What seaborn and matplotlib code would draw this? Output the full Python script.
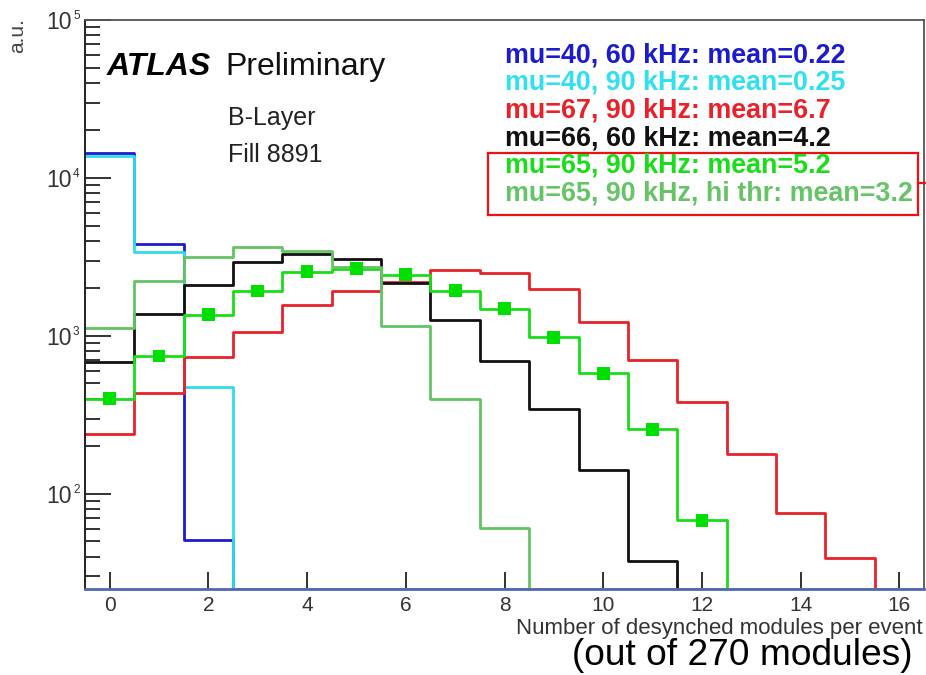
import numpy as np
import pandas as pd
import matplotlib
matplotlib.use("Agg")
import matplotlib.pyplot as plt
import seaborn as sns
from matplotlib.patches import Rectangle
from matplotlib.lines import Line2D
from matplotlib.ticker import LogLocator, NullFormatter

# Bin centres: number of desynchronised B-Layer modules in one event
modules = np.arange(0, 17)

# Entries per bin (a.u.) for each run configuration; 0 = empty bin
mu40_60khz = [14400, 3800, 51, 0, 0, 0, 0, 0, 0, 0, 0, 0, 0, 0, 0, 0, 0]
mu40_90khz = [13800, 3400, 473, 0, 0, 0, 0, 0, 0, 0, 0, 0, 0, 0, 0, 0, 0]
mu67_90khz = [240, 434, 733, 1065, 1560, 1935, 2200, 2630, 2500, 1977, 1233,
              705, 384, 178, 76, 39.5, 0]
mu66_60khz = [681, 1370, 2100, 2940, 3300, 3085, 2155, 1255, 695, 345, 142,
              37.7, 0, 0, 0, 0, 0]
mu65_90khz = [401, 747, 1360, 1927, 2555, 2670, 2444, 1935, 1483, 982, 581,
              257, 68, 0, 0, 0, 0]
mu65_90khz_hithr = [1118, 2240, 3175, 3640, 3467, 2750, 1150, 401, 60.7, 0,
                    0, 0, 0, 0, 0, 0, 0]

series_labels = [
    "mu=40, 60 kHz: mean=0.22",
    "mu=40, 90 kHz: mean=0.25",
    "mu=67, 90 kHz: mean=6.7",
    "mu=66, 60 kHz: mean=4.2",
    "mu=65, 90 kHz: mean=5.2",
    "mu=65, 90 kHz, hi thr: mean=3.2",
]
x_tick_values = list(range(0, 17, 2))
y_tick_exponents = [2, 3, 4, 5]

series = [mu40_60khz, mu40_90khz, mu67_90khz, mu66_60khz, mu65_90khz,
          mu65_90khz_hithr]
colors = ["#1c1ccc", "#2fdcee", "#e8222a", "#111111", "#18dd18", "#64c464"]
text_colors = ["#1c1ccc", "#2fe0ee", "#e8222a", "#111111", "#18dd18", "#66c466"]

sns.set_style("ticks")
plt.rcParams["font.family"] = ["Liberation Sans", "DejaVu Sans"]

W, H = 926, 675
fig = plt.figure(figsize=(W / 100, H / 100), dpi=100)
ax = fig.add_axes([85 / W, 1 - 589 / H, (924 - 85) / W, (589 - 20) / H])


def fx(x):
    return x / W


def fy(y):
    return 1 - y / H


YMIN, YMAX = 25, 1e5

for vals, col in zip(series, colors):
    vals = np.asarray(vals, dtype=float)
    # empty bins are drawn on the axis floor, as for a log-scale histogram
    df = pd.DataFrame({"modules": modules,
                       "entries": np.where(vals > 0, vals, YMIN)})
    sns.histplot(data=df, x="modules", weights="entries", discrete=True,
                 element="step", fill=False, color=col, linewidth=2.0, ax=ax)

# square markers on the mu=65, 90 kHz histogram
g = np.asarray(mu65_90khz, dtype=float)
mask = g > 0
sns.scatterplot(x=modules[mask], y=g[mask], marker="s", s=85,
                color="#00e000", edgecolor="none", zorder=5, ax=ax)

ax.set_yscale("log")
ax.set_xlim(-0.5, 16.5)
ax.set_ylim(YMIN, YMAX)
ax.set_xlabel("")
ax.set_ylabel("")

ax.set_xticks(x_tick_values)
ax.set_xticklabels([str(v) for v in x_tick_values])

# decade labels: "10" as the tick label, the exponent as a small superscript
y_ticks = [10.0 ** e for e in y_tick_exponents]
ax.set_yticks(y_ticks)
ax.set_yticklabels(["10"] * len(y_ticks))
for e, v in zip(y_tick_exponents, y_ticks):
    ax.annotate(str(e), xy=(0, v), xycoords=("axes fraction", "data"),
                xytext=(-12, 1), textcoords="offset pixels", fontsize=8.5,
                ha="left", va="baseline", color="#333333",
                annotation_clip=False)
ax.yaxis.set_minor_locator(LogLocator(base=10, subs=np.arange(2, 10)))
ax.yaxis.set_minor_formatter(NullFormatter())

ax.tick_params(axis="x", which="major", direction="in", length=12, width=1.3,
               labelsize=15, pad=5, color="#222222", labelcolor="#333333")
ax.tick_params(axis="x", which="minor", bottom=False)
ax.tick_params(axis="y", which="major", direction="in", length=18.5,
               width=1.3, labelsize=16.5, pad=9.4, color="#222222",
               labelcolor="#333333")
ax.tick_params(axis="y", which="minor", direction="in", length=10.5,
               width=1.3, color="#222222")

ax.spines["left"].set_color("#222222")
ax.spines["left"].set_linewidth(1.4)
for s in ["top", "right"]:
    ax.spines[s].set_color("#555555")
    ax.spines[s].set_linewidth(1.3)
ax.spines["bottom"].set_color("#5068b0")
ax.spines["bottom"].set_linewidth(2.0)

# axis titles
fig.text(fx(18), fy(36), "a.u.", rotation=90, ha="center", va="center",
         fontsize=15, color="#444444")
fig.text(fx(923), fy(634), "Number of desynched modules per event",
         ha="right", va="baseline", fontsize=16, color="#333333")
fig.text(fx(912), fy(665), "(out of 270 modules)", ha="right",
         va="baseline", fontsize=26.7, color="black")

# experiment labels
fig.text(fx(107), fy(75), "ATLAS", fontsize=23, fontweight="bold",
         fontstyle="italic", va="baseline", ha="left", color="black")
fig.text(fx(225), fy(75), "Preliminary", fontsize=23, va="baseline",
         ha="left", color="#111111")
fig.text(fx(228), fy(125), "B-Layer", fontsize=18, va="baseline",
         ha="left", color="#222222")
fig.text(fx(228), fy(161.5), "Fill 8891", fontsize=18, va="baseline",
         ha="left", color="#222222")

# coloured legend entries
baselines = [62.5, 90, 117.5, 145, 173, 201]
for lab, col, yb in zip(series_labels, text_colors, baselines):
    fig.text(fx(505), fy(yb), lab, fontsize=19.4, fontweight="bold",
             color=col, va="baseline", ha="left")

# highlight box around the mu=65 entries
fig.add_artist(Rectangle((fx(488), fy(215)), fx(918) - fx(488),
                         fy(153) - fy(215), transform=fig.transFigure,
                         fill=False, edgecolor="#ee1111", linewidth=1.6))
fig.add_artist(Line2D([fx(918), fx(926)], [fy(183), fy(183)],
                      transform=fig.transFigure, color="#ee1111",
                      linewidth=1.6))

fig.savefig("out.png", dpi=100, facecolor="white")
